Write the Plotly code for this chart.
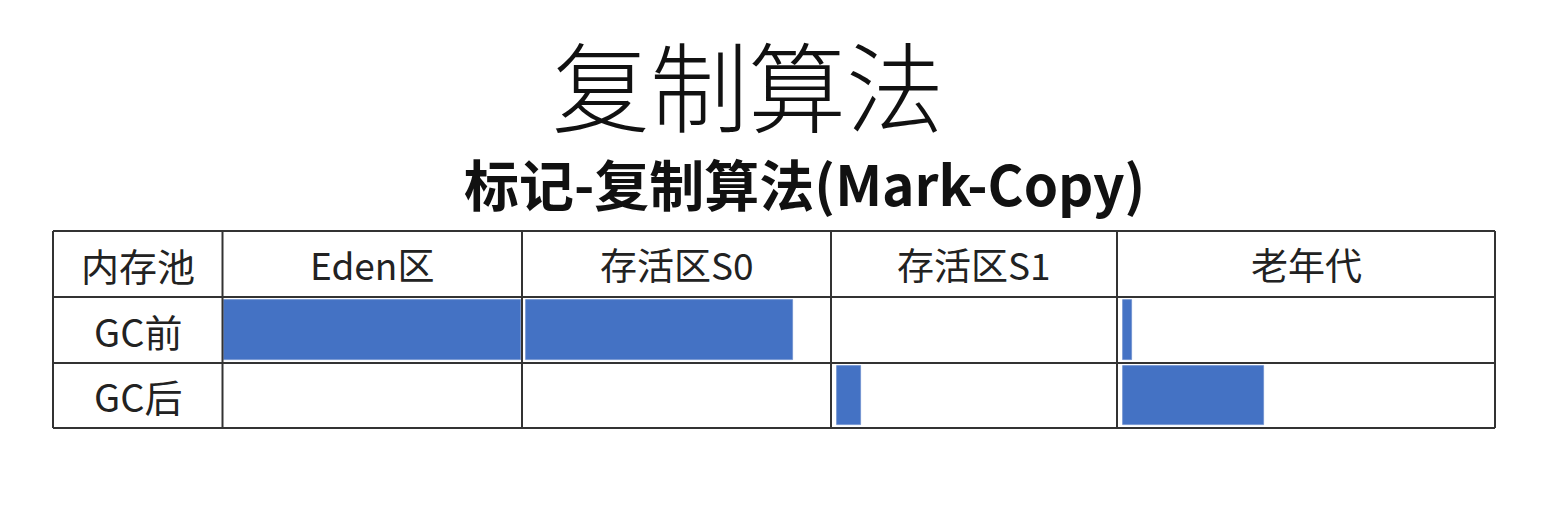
import plotly.graph_objects as go

# ---- data ----
title_main = "复制算法"
title_sub = "标记-复制算法(Mark-Copy)"
corner_label = "内存池"
pools = ["Eden区", "存活区S0", "存活区S1", "老年代"]
rows = ["GC前", "GC后"]
# fill fraction of each pool's cell
fill_before = [0.99, 0.865, 0.0, 0.025]
fill_after = [0.0, 0.0, 0.085, 0.373]

# ---- layout constants (pixels) ----
W, H = 1554, 530
col_edges = [53, 222.5, 522, 831, 1117, 1495]
row_edges = [231, 297, 363, 428]
col_pads = [1.5, 4, 6, 6]
bar_color = "#4472C4"
line_color = "#333333"
text_color = "#222222"
cjk = "Noto Sans CJK SC"

fig = go.Figure()

for r, (name, fills) in enumerate(zip(rows, [fill_before, fill_after])):
    top, bot = row_edges[r + 1], row_edges[r + 2]
    ys, xs, bases = [], [], []
    for c, f in enumerate(fills):
        if f <= 0:
            continue
        left, right = col_edges[c + 1], col_edges[c + 2]
        ys.append((top + bot) / 2)
        xs.append(f * (right - left))
        bases.append(left + col_pads[c])
    fig.add_trace(go.Bar(
        orientation="h", y=ys, x=xs, base=bases, width=(bot - top) - 6,
        marker=dict(color=bar_color, line=dict(color="#6f8fce", width=0.8)),
        name=name, showlegend=False, hoverinfo="skip",
    ))

shapes = []
for x in col_edges:
    shapes.append(dict(type="line", x0=x, x1=x, y0=row_edges[0], y1=row_edges[-1],
                       line=dict(color=line_color, width=2), layer="above"))
for y in row_edges:
    shapes.append(dict(type="line", x0=col_edges[0], x1=col_edges[-1], y0=y, y1=y,
                       line=dict(color=line_color, width=2), layer="above"))

ann = []
ann.append(dict(x=748, y=82, text=title_main, showarrow=False,
                font=dict(family=cjk, size=98, color="#111111", weight=300),
                xanchor="center", yanchor="middle"))
ann.append(dict(x=804, y=182, text="<b>" + title_sub + "</b>", showarrow=False,
                font=dict(family=cjk, size=55, color="#111111"), xanchor="center", yanchor="middle"))
hdr_y = (row_edges[0] + row_edges[1]) / 2
ann.append(dict(x=(col_edges[0] + col_edges[1]) / 2, y=hdr_y, text=corner_label, showarrow=False,
                font=dict(family=cjk, size=38, color=text_color)))
for c, p in enumerate(pools):
    ann.append(dict(x=(col_edges[c + 1] + col_edges[c + 2]) / 2, y=hdr_y, text=p, showarrow=False,
                    font=dict(family=cjk, size=37, color=text_color)))
for r, name in enumerate(rows):
    ann.append(dict(x=(col_edges[0] + col_edges[1]) / 2, y=(row_edges[r + 1] + row_edges[r + 2]) / 2,
                    text=name, showarrow=False, font=dict(family=cjk, size=38, color=text_color)))

fig.update_layout(
    width=W, height=H, margin=dict(l=0, r=0, t=0, b=0),
    paper_bgcolor="white", plot_bgcolor="white",
    xaxis=dict(range=[0, W], visible=False, fixedrange=True),
    yaxis=dict(range=[H, 0], visible=False, fixedrange=True),
    shapes=shapes, annotations=ann, barmode="overlay", bargap=0,
)

fig.write_html("out.html")
